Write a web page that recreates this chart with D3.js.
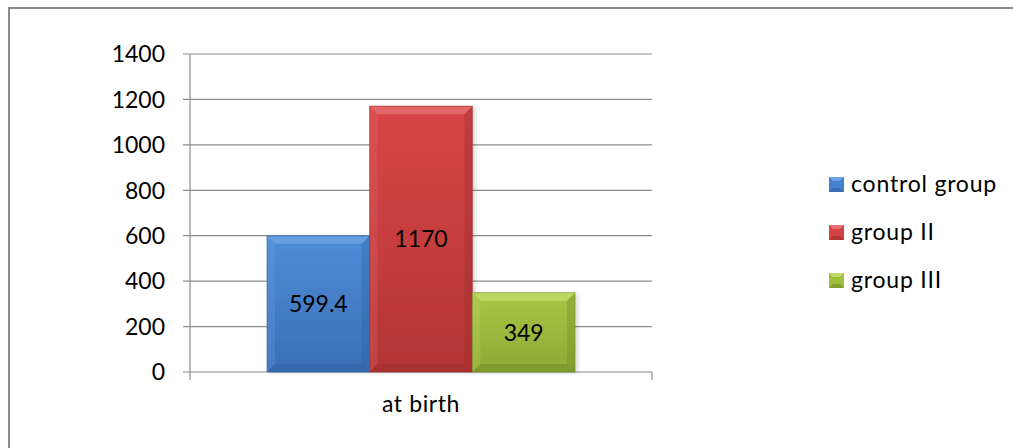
<!DOCTYPE html>
<html>
<head>
<meta charset="utf-8">
<script src="https://cdn.jsdelivr.net/npm/d3@7"></script>
<style>
  body { margin: 0; background: #fff; }
  svg { display: block; font-family: Lato, "Open Sans", sans-serif; }
</style>
</head>
<body>
<svg></svg>
<script>
const size = {w: 1013, h: 448};
const margin = {t: 54, l: 190, r: 361, b: 76};
const fontSize = 23;

// data
const categories = ['at birth'];
const seriesNames = ['control group', 'group II', 'group III'];
const seriesValues = [599.4, 1170, 349];
const valueLabels = ['599.4', '1170', '349'];
const yTicks = [0, 200, 400, 600, 800, 1000, 1200, 1400];

const colors = [
  {base: '#4482cf', light: '#6ea3e3', dark: '#2f609f', top: '#4f8cd8', bottom: '#3a6fb4'},
  {base: '#d44343', light: '#e77070', dark: '#9c2c2c', top: '#d84646', bottom: '#b33535'},
  {base: '#9dbf3d', light: '#c1dc6a', dark: '#6f8a28', top: '#a6c746', bottom: '#8daa34'}
];

const svg = d3.select('svg')
    .attr('width', size.w)
    .attr('height', size.h);

// outer frame (runs off the right and bottom)
svg.append('rect')
    .attr('x', 9).attr('y', 8)
    .attr('width', size.w + 20).attr('height', size.h + 20)
    .attr('fill', 'none')
    .attr('stroke', '#8a8a8a')
    .attr('stroke-width', 2);

const plotW = size.w - margin.l - margin.r;
const plotH = size.h - margin.t - margin.b;

const y = d3.scaleLinear().domain([0, 1400]).range([margin.t + plotH, margin.t]);
const x0 = d3.scaleBand().domain(categories).range([margin.l, margin.l + plotW]).paddingInner(0).paddingOuter(0.25);
const x1 = d3.scaleBand().domain(seriesNames).range([0, x0.bandwidth()]).padding(0);

// gradients
const defs = svg.append('defs');
colors.forEach((c, i) => {
  const g = defs.append('linearGradient').attr('id', 'grad' + i)
      .attr('x1', 0).attr('y1', 0).attr('x2', 0).attr('y2', 1);
  g.append('stop').attr('offset', '0%').attr('stop-color', c.top);
  g.append('stop').attr('offset', '100%').attr('stop-color', c.bottom);
});
const shadow = defs.append('filter').attr('id', 'shadow')
    .attr('x', '-10%').attr('y', '-10%').attr('width', '130%').attr('height', '130%');
shadow.append('feDropShadow').attr('dx', 3).attr('dy', 1).attr('stdDeviation', 2)
    .attr('flood-color', '#000').attr('flood-opacity', 0.15);

// gridlines
const gridG = svg.append('g');
gridG.selectAll('line')
    .data(yTicks)
    .join('line')
    .attr('x1', margin.l - 7)
    .attr('x2', margin.l + plotW)
    .attr('y1', d => y(d))
    .attr('y2', d => y(d))
    .attr('stroke', '#8c8c8c')
    .attr('stroke-width', 1.2);

// y axis line and category ticks
svg.append('line')
    .attr('x1', margin.l).attr('x2', margin.l)
    .attr('y1', y(1400)).attr('y2', y(0) + 8)
    .attr('stroke', '#8c8c8c').attr('stroke-width', 1.2);
svg.append('line')
    .attr('x1', margin.l + plotW).attr('x2', margin.l + plotW)
    .attr('y1', y(0)).attr('y2', y(0) + 8)
    .attr('stroke', '#8c8c8c').attr('stroke-width', 1.2);

// y tick labels
svg.append('g').selectAll('text')
    .data(yTicks)
    .join('text')
    .attr('x', margin.l - 25)
    .attr('y', d => y(d))
    .attr('dy', '0.36em')
    .attr('text-anchor', 'end')
    .attr('font-size', fontSize)
    .attr('fill', '#000')
    .text(d => d);

// x label
svg.append('g').selectAll('text')
    .data(categories)
    .join('text')
    .attr('x', d => x0(d) + x0.bandwidth() / 2)
    .attr('y', y(0) + 40)
    .attr('text-anchor', 'middle')
    .attr('font-size', fontSize)
    .attr('letter-spacing', 0.6)
    .text(d => d);

// bars
const barsG = svg.append('g');
const bevel = 8;
seriesNames.forEach((name, i) => {
  const bx = x0(categories[0]) + x1(name);
  const bw = x1.bandwidth();
  const by = y(seriesValues[i]);
  const bh = y(0) - by;
  const c = colors[i];
  const g = barsG.append('g');
  g.append('rect')
      .attr('x', bx).attr('y', by).attr('width', bw).attr('height', bh)
      .attr('fill', 'url(#grad' + i + ')')
      .attr('filter', 'url(#shadow)');
  // bevel edges
  const b = Math.min(bevel, bh / 2);
  g.append('polygon')
      .attr('points', [[bx, by], [bx + bw, by], [bx + bw - b, by + b], [bx + b, by + b]].join(' '))
      .attr('fill', c.light).attr('opacity', 0.8);
  g.append('polygon')
      .attr('points', [[bx, by], [bx + b, by + b], [bx + b, by + bh - b], [bx, by + bh]].join(' '))
      .attr('fill', c.light).attr('opacity', 0.25);
  g.append('polygon')
      .attr('points', [[bx + bw, by], [bx + bw, by + bh], [bx + bw - b, by + bh - b], [bx + bw - b, by + b]].join(' '))
      .attr('fill', c.dark).attr('opacity', 0.35);
  g.append('polygon')
      .attr('points', [[bx, by + bh], [bx + b, by + bh - b], [bx + bw - b, by + bh - b], [bx + bw, by + bh]].join(' '))
      .attr('fill', c.dark).attr('opacity', 0.5);
  g.append('rect')
      .attr('x', bx).attr('y', by).attr('width', bw).attr('height', bh)
      .attr('fill', 'none').attr('stroke', c.dark).attr('stroke-width', 1).attr('opacity', 0.6);
  g.append('text')
      .attr('x', bx + bw / 2)
      .attr('y', by + bh / 2)
      .attr('dy', '0.36em')
      .attr('text-anchor', 'middle')
      .attr('font-size', fontSize)
      .text(valueLabels[i]);
});

// legend
const legend = svg.append('g').attr('transform', 'translate(829,184)');
seriesNames.forEach((name, i) => {
  const c = colors[i];
  const row = legend.append('g').attr('transform', `translate(0,${i * 48})`);
  row.append('rect').attr('x', 0).attr('y', -7).attr('width', 15).attr('height', 15)
      .attr('fill', c.base);
  row.append('polygon').attr('points', '0,-7 15,-7 11,-3 4,-3').attr('fill', c.light);
  row.append('polygon').attr('points', '0,8 15,8 11,4 4,4').attr('fill', c.dark).attr('opacity', 0.6);
  row.append('text')
      .attr('x', 22).attr('y', 0).attr('dy', '0.36em')
      .attr('font-size', fontSize)
      .attr('letter-spacing', 0.8)
      .text(name);
});
</script>
</body>
</html>
